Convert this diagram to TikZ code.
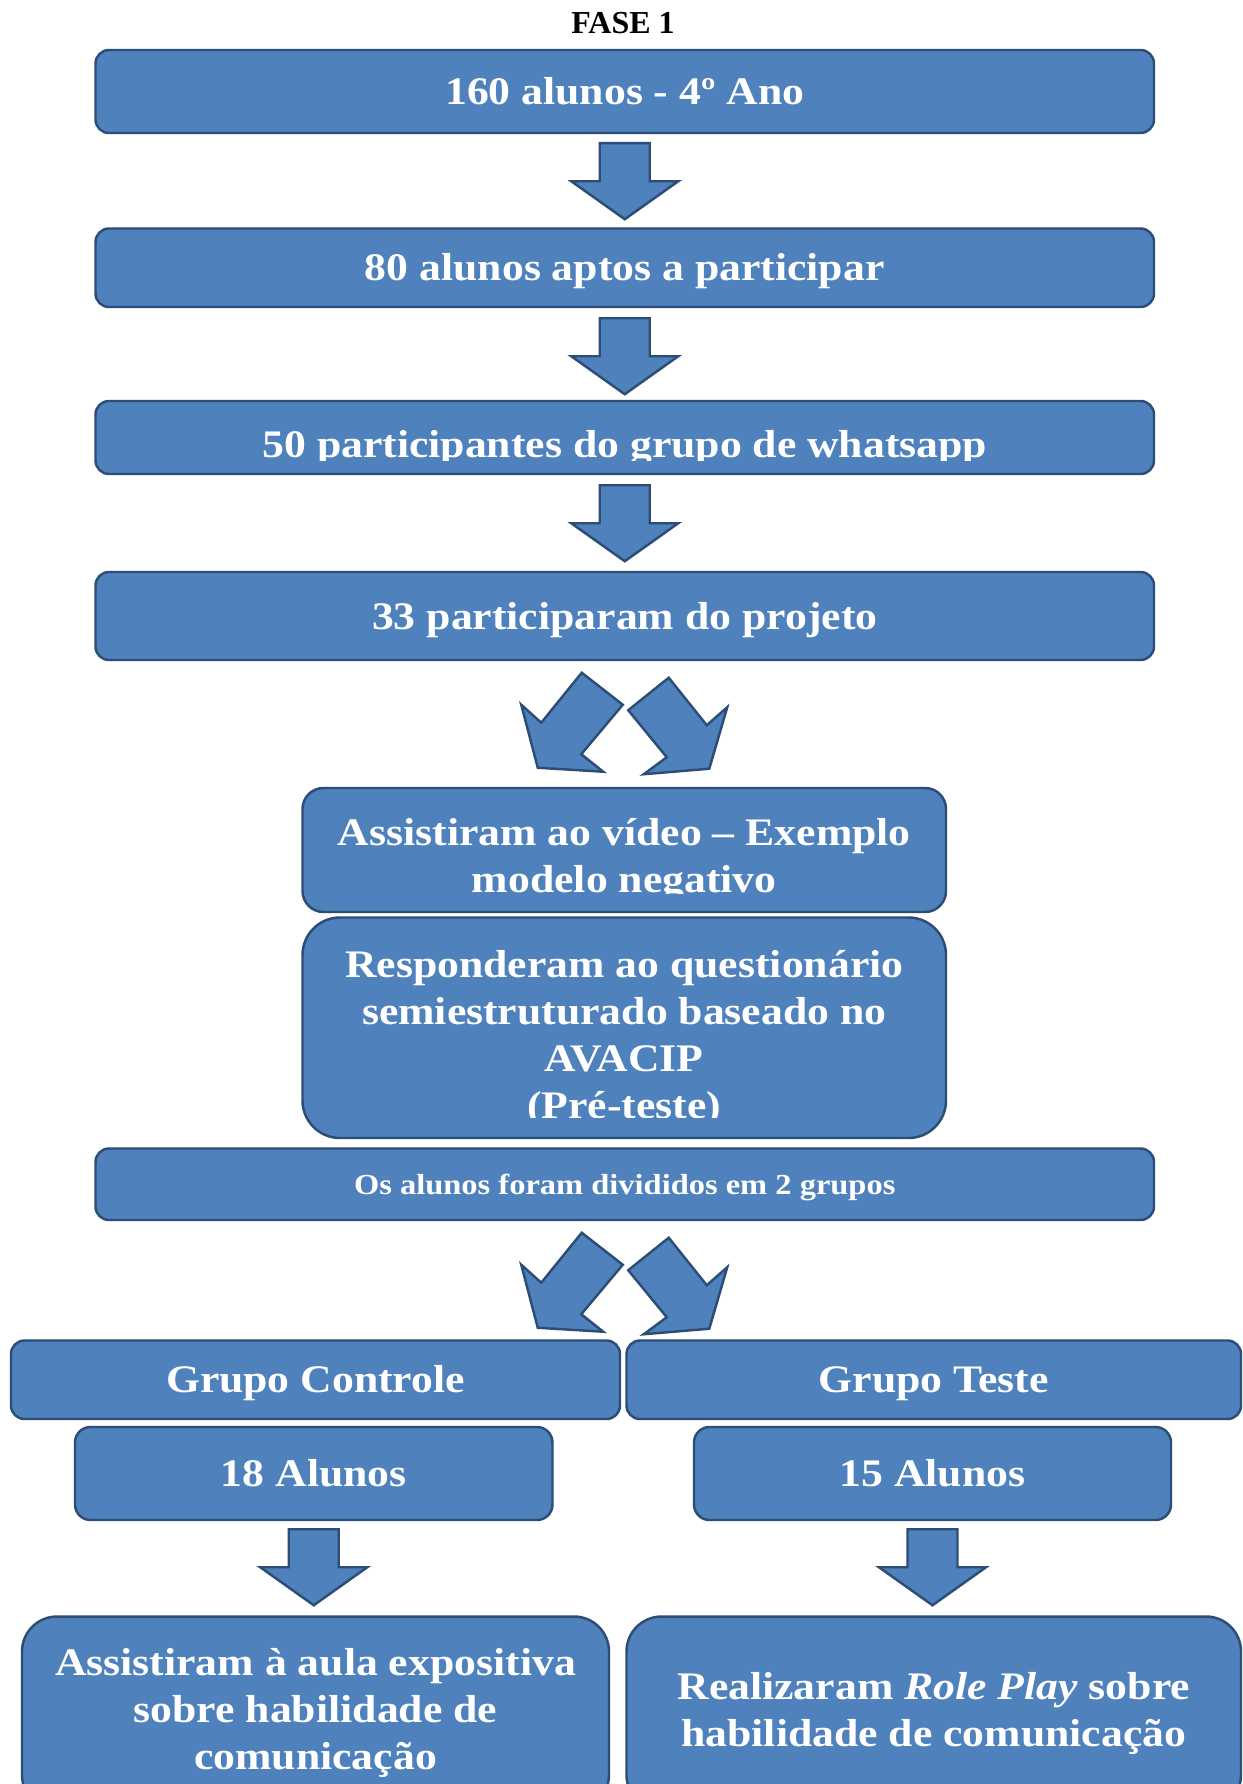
\documentclass[tikz,border=0pt]{standalone}
\usepackage{fontspec}
\setmainfont{Liberation Serif}
\newfontfamily\boxfont{Liberation Serif}[FakeStretch=1.12]
\usetikzlibrary{calc}
\definecolor{BoxBlue}{HTML}{4F81BD}
\definecolor{BoxLine}{HTML}{2C4D75}
\tikzset{
  flowbox/.style={draw=BoxLine, fill=BoxBlue, line width=1.4pt, rounded corners=0.27cm, text=white, align=center, inner sep=0pt, text height=0.69cm, text depth=0.17cm, font=\boxfont\bfseries\fontsize{22.2}{26.7}\selectfont},
  boxtext/.style={text=white, align=center, inner sep=0pt, font=\boxfont\bfseries\fontsize{22.2}{26.7}\selectfont},
  blockarrow/.style={draw=BoxLine, fill=BoxBlue, line width=1.4pt, line join=miter},
  pics/downarrow/.style={code={
    \filldraw[blockarrow] (-0.5,0) -- (0.5,0) -- (0.5,-0.76) -- (1.07,-0.76) -- (0,-1.52) -- (-1.07,-0.76) -- (-0.5,-0.76) -- cycle;}},
  pics/splitarrows/.style={code={
    \filldraw[blockarrow] (-0.86,-0.23) -- (-0.04,-0.87) -- (-0.87,-1.86) -- (-0.43,-2.21) -- (-1.74,-2.13) -- (-2.07,-0.87) -- (-1.67,-1.23) -- cycle;
    \filldraw[blockarrow] (0.88,-0.33) -- (0.07,-0.98) -- (0.84,-1.92) -- (0.38,-2.26) -- (1.69,-2.15) -- (2.05,-0.92) -- (1.64,-1.28) -- cycle;}}
}

\begin{document}
\begin{tikzpicture}
    \clip (0,0) rectangle (24.86,-35.68);
    \fill[white] (0,0) rectangle (24.86,-35.68);

    \node[font=\bfseries\fontsize{18.2}{22}\selectfont] (fase) at (12.46,-0.46) {FASE 1};

    % fase 1: selection
    \node[flowbox, minimum width=21.17cm, minimum height=1.66cm] (alunos) at (12.495,-1.83) {160 alunos - 4º Ano};
    \node[flowbox, minimum width=21.17cm, minimum height=1.57cm] (aptos) at (12.495,-5.355) {80 alunos aptos a participar};
    \node[flowbox, minimum width=21.17cm, minimum height=1.46cm] (whats) at (12.495,-8.75) {};
    \begin{scope}
      \clip (1.9,-7.9) rectangle (23.1,-9.2);
      \node[boxtext] (whatstxt) at (12.495,-8.97) {50 participantes do grupo de whatsapp};
    \end{scope}
    \node[flowbox, minimum width=21.17cm, minimum height=1.76cm] (projeto) at (12.495,-12.32) {33 participaram do projeto};

    % pre-test
    \node[flowbox, rounded corners=0.42cm, minimum width=12.87cm, minimum height=2.48cm] (video) at (12.485,-17.0) {};
    \begin{scope}
      \clip (6.05,-15.7) rectangle (18.92,-17.86);
      \node[boxtext] (videotxt) at (12.485,-17.2) {Assistiram ao vídeo – Exemplo\\modelo negativo};
    \end{scope}
    \node[flowbox, rounded corners=0.75cm, minimum width=12.87cm, minimum height=4.41cm] (quest) at (12.485,-20.555) {};
    \begin{scope}
      \clip (6.05,-18.3) rectangle (18.92,-22.34);
      \node[boxtext] (questtxt) at (12.485,-20.77) {Responderam ao questionário\\semiestruturado baseado no\\AVACIP\\(Pré-teste)};
    \end{scope}
    \node[flowbox, font=\boxfont\bfseries\fontsize{16.5}{20}\selectfont, text height=0.52cm, text depth=0.13cm, minimum width=21.17cm, minimum height=1.43cm] (grupos) at (12.495,-23.685) {Os alunos foram divididos em 2 grupos};

    % groups
    \node[flowbox, minimum width=12.18cm, minimum height=1.57cm] (controle) at (6.31,-27.595) {Grupo Controle};
    \node[flowbox, minimum width=12.29cm, minimum height=1.57cm] (teste) at (18.675,-27.595) {Grupo Teste};
    \node[flowbox, rounded corners=0.31cm, minimum width=9.55cm, minimum height=1.86cm] (n18) at (6.275,-29.47) {18 Alunos};
    \node[flowbox, rounded corners=0.31cm, minimum width=9.54cm, minimum height=1.86cm] (n15) at (18.65,-29.47) {15 Alunos};
    \node[flowbox, text height=, text depth=, rounded corners=0.7cm, minimum width=11.74cm, minimum height=3.87cm] (aula) at (6.31,-34.265) {Assistiram à aula expositiva\\sobre habilidade de\\comunicação};
    \node[flowbox, text height=, text depth=, rounded corners=0.7cm, minimum width=12.29cm, minimum height=3.87cm] (roleplay) at (18.675,-34.265) {Realizaram \textit{Role Play} sobre\\habilidade de comunicação};

    % block arrows
    \pic at ($(alunos.south)+(0,-0.18)$) {downarrow};
    \pic at ($(aptos.south)+(0,-0.2)$) {downarrow};
    \pic at ($(whats.south)+(0,-0.2)$) {downarrow};
    \pic at (projeto.south) {splitarrows};
    \pic at (grupos.south) {splitarrows};
    \pic at ($(n18.south)+(0,-0.16)$) {downarrow};
    \pic at ($(n15.south)+(0,-0.16)$) {downarrow};
\end{tikzpicture}
\end{document}
